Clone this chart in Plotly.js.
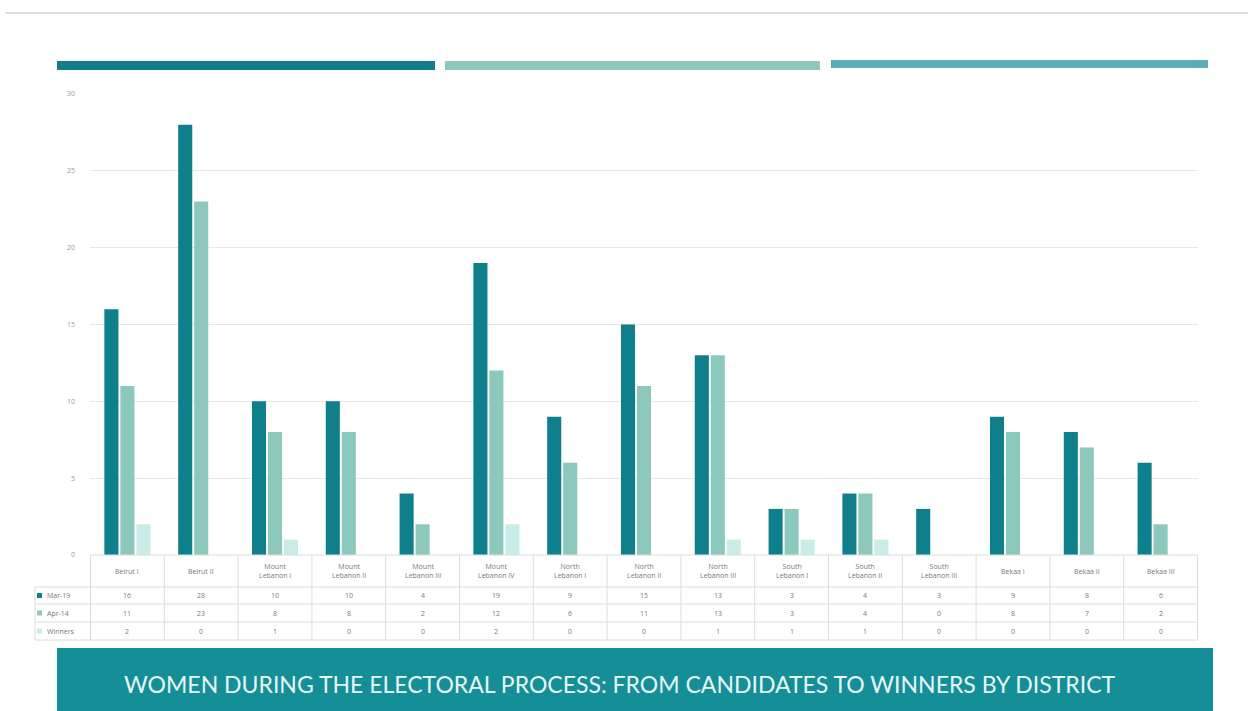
<!DOCTYPE html>
<html>
<head>
<meta charset="utf-8">
<script src="https://cdn.plot.ly/plotly-3.0.1.min.js"></script>
<style>html,body{margin:0;padding:0;background:#fff;}#chart{width:1248px;height:711px;}</style>
</head>
<body>
<div id="chart"></div>
<script>
const districts = ['Beirut I','Beirut II','Mount Lebanon I','Mount Lebanon II','Mount Lebanon III','Mount Lebanon IV','North Lebanon I','North Lebanon II','North Lebanon III','South Lebanon I','South Lebanon II','South Lebanon III','Bekaa I','Bekaa II','Bekaa III'];
const seriesNames = ['Mar-19','Apr-14','Winners'];
const mar = [16,28,10,10,4,19,9,15,13,3,4,3,9,8,6];
const apr = [11,23,8,8,2,12,6,11,13,3,4,0,8,7,2];
const winners = [2,0,1,0,0,2,0,0,1,1,1,0,0,0,0];
const yTicks = [0,5,10,15,20,25,30];
const chartTitle = 'WOMEN DURING THE ELECTORAL PROCESS: FROM CANDIDATES TO WINNERS BY DISTRICT';

const colors = ['#0e7f8b','#8cc8bb','#c9ece6'];
const seriesValues = [mar, apr, winners];

// plot area geometry (pixels)
const W = 1248, H = 711, L = 90, R = 1198, T = 94, B = 555;
const px2x = px => (px - L) / (R - L);
const px2y = py => (B - py) / (B - T);

const traces = seriesNames.map((n, i) => ({
  type: 'bar', name: n, x: districts, y: seriesValues[i],
  marker: {color: colors[i]}, hoverinfo: 'x+y+name'
}));

const shapes = [];
const annotations = [];
const gridCol = '#dcdcdc';
const tblFont = {family:'Open Sans, sans-serif', size:7, color:'#7a7a7a'};

// top grey separator
shapes.push({type:'line', xref:'paper', yref:'paper', x0:px2x(5), x1:px2x(1248), y0:px2y(13), y1:px2y(13), line:{color:'#dedede', width:2}});
// decorative colored bars
const deco = [[57,435,'#107f8b',61,70],[445,820,'#8ec7bb',61,70],[831,1208,'#5eabb9',60,68]];
deco.forEach(d => shapes.push({type:'rect', xref:'paper', yref:'paper', x0:px2x(d[0]), x1:px2x(d[1]), y0:px2y(d[3]), y1:px2y(d[4]), fillcolor:d[2], line:{width:0}}));

// table rows (pixel y of lines)
const rowLines = [587, 604, 622, 640];
const rowCenters = [595.5, 613, 631];
const headerCenter = 571;
shapes.push({type:'line', xref:'paper', yref:'paper', x0:0, x1:1, y0:0, y1:0, line:{color:gridCol, width:1}});
rowLines.forEach(py => shapes.push({type:'line', xref:'paper', yref:'paper', x0:px2x(35), x1:1, y0:px2y(py), y1:px2y(py), line:{color:gridCol, width:1}}));
for (let i = 0; i <= districts.length; i++) {
  shapes.push({type:'line', xref:'x', yref:'paper', x0:i-0.5, x1:i-0.5, y0:0, y1:px2y(640), line:{color:gridCol, width:1}});
}
shapes.push({type:'line', xref:'paper', yref:'paper', x0:px2x(35), x1:px2x(35), y0:px2y(587), y1:px2y(640), line:{color:gridCol, width:1}});

districts.forEach((d, i) => {
  const parts = d.split(' ');
  const txt = parts.length > 2 ? parts[0] + '<br>' + parts.slice(1).join(' ') : d;
  annotations.push({xref:'x', yref:'paper', x:d, y:px2y(headerCenter), xanchor:'center', yanchor:'middle', text:txt, showarrow:false,
    font:tblFont, align:'center'});
  seriesValues.forEach((vals, r) => {
    annotations.push({xref:'x', yref:'paper', x:d, y:px2y(rowCenters[r]), xanchor:'center', yanchor:'middle', text:String(vals[i]), showarrow:false,
      font:tblFont});
  });
});
seriesNames.forEach((n, r) => {
  const cy = rowCenters[r];
  shapes.push({type:'rect', xref:'paper', yref:'paper', x0:px2x(37), x1:px2x(42), y0:px2y(cy-2.5), y1:px2y(cy+2.5), fillcolor:colors[r], line:{width:0}});
  annotations.push({xref:'paper', yref:'paper', x:px2x(45), y:px2y(cy), xanchor:'left', yanchor:'middle', text:n, showarrow:false,
    font:tblFont});
});

// title banner
shapes.push({type:'rect', xref:'paper', yref:'paper', x0:px2x(57), x1:px2x(1213), y0:px2y(648), y1:px2y(711), fillcolor:'#148f98', line:{width:0}});
annotations.push({xref:'paper', yref:'paper', x:px2x(620), y:px2y(684), xanchor:'center', yanchor:'middle', text:chartTitle, showarrow:false,
  font:{family:'Lato, sans-serif', size:23, color:'#e8f7f6'}});

const layout = {
  width: W, height: H,
  margin: {l: L, r: W - R, t: T, b: H - B, pad: 0},
  paper_bgcolor: '#ffffff', plot_bgcolor: '#ffffff',
  showlegend: false,
  barmode: 'group', bargap: 0.35, bargroupgap: 0.12,
  xaxis: {type:'category', showticklabels:false, showgrid:false, zeroline:false, showline:false, ticks:'', fixedrange:true},
  yaxis: {range:[0,30], tickvals:yTicks, ticktext:yTicks.map(String), showgrid:true, gridcolor:'#e8e8e8', gridwidth:1,
    zeroline:false, showline:false, ticks:'', ticklabelstandoff:14,
    tickfont:{family:'Open Sans, sans-serif', size:7, color:'#9a9a9a'}, fixedrange:true},
  shapes: shapes,
  annotations: annotations
};

Plotly.newPlot('chart', traces, layout, {displayModeBar:false, staticPlot:true});
</script>
</body>
</html>
